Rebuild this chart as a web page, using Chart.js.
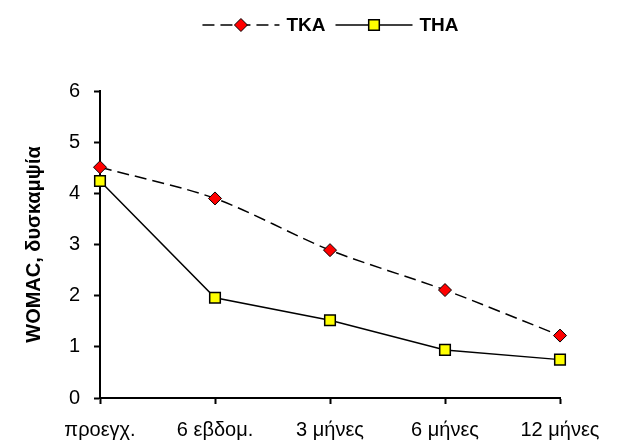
<!DOCTYPE html>
<html>
<head>
<meta charset="utf-8">
<script src="https://cdn.jsdelivr.net/npm/chart.js@4.4.0/dist/chart.umd.min.js"></script>
<style>
  html, body { margin: 0; padding: 0; background: #fff; }
  #wrap { width: 619px; height: 443px; }
</style>
</head>
<body>
<div id="wrap"><canvas id="chart"></canvas></div>
<script>
const categories = ['προεγχ.', '6 εβδομ.', '3 μήνες', '6 μήνες', '12 μήνες'];
const tkaValues = [4.51, 3.9, 2.89, 2.11, 1.22];
const thaValues = [4.24, 1.96, 1.52, 0.94, 0.75];
const seriesNames = ['TKA', 'THA'];
const yMin = 0, yMax = 6, yStep = 1;
const yTitle = 'WOMAC, δυσκαμψία';

const FONT = 'Arial, "Liberation Sans", sans-serif';

function drawMarker(ctx, style, r, x, y) {
  ctx.beginPath();
  if (style === 'rectRot') {
    ctx.moveTo(x - r, y); ctx.lineTo(x, y - r); ctx.lineTo(x + r, y); ctx.lineTo(x, y + r);
  } else {
    const s = r * Math.SQRT1_2;
    ctx.rect(x - s, y - s, 2 * s, 2 * s);
  }
  ctx.closePath();
  ctx.fill();
  ctx.stroke();
}

// hand-drawn legend: line sample with marker in the middle, like the original
const lineLegend = {
  id: 'lineLegend',
  afterDraw(chart) {
    const ctx = chart.ctx;
    const sampleW = 77, gapText = 7, gapItem = 10, y = 25;
    ctx.save();
    ctx.font = 'bold 19px ' + FONT;
    const items = chart.data.datasets.map(ds => ({ ds, w: sampleW + gapText + ctx.measureText(ds.label).width }));
    const total = items.reduce((a, it) => a + it.w, 0) + gapItem * (items.length - 1);
    let x = chart.width / 2 + 21 - total / 2;
    items.forEach(({ ds, w }) => {
      ctx.strokeStyle = ds.borderColor;
      ctx.lineWidth = ds.borderWidth;
      ctx.setLineDash(ds.borderDash || []);
      ctx.beginPath(); ctx.moveTo(x, y); ctx.lineTo(x + sampleW, y); ctx.stroke();
      ctx.setLineDash([]);
      ctx.fillStyle = ds.pointBackgroundColor;
      ctx.strokeStyle = ds.pointBorderColor;
      ctx.lineWidth = ds.pointBorderWidth;
      drawMarker(ctx, ds.pointStyle, ds.pointRadius, x + sampleW / 2, y);
      ctx.fillStyle = '#000';
      ctx.textBaseline = 'middle';
      ctx.textAlign = 'left';
      ctx.fillText(ds.label, x + sampleW + gapText, y + 1);
      x += w + gapItem;
    });
    ctx.restore();
  }
};

new Chart(document.getElementById('chart'), {
  type: 'line',
  data: {
    labels: categories,
    datasets: [
      {
        label: seriesNames[0],
        data: tkaValues,
        borderColor: '#000',
        borderWidth: 1.5,
        borderDash: [12, 6],
        tension: 0.3,
        pointStyle: 'rectRot',
        pointRadius: 6.5,
        pointHoverRadius: 6.5,
        pointBackgroundColor: '#ff0000',
        pointBorderColor: '#000',
        pointBorderWidth: 1,
      },
      {
        label: seriesNames[1],
        data: thaValues,
        borderColor: '#000',
        borderWidth: 1.5,
        tension: 0,
        pointStyle: 'rect',
        pointRadius: 7.5,
        pointHoverRadius: 7.5,
        pointBackgroundColor: '#ffff00',
        pointBorderColor: '#000',
        pointBorderWidth: 1.5,
      }
    ]
  },
  options: {
    responsive: true,
    maintainAspectRatio: false,
    animation: false,
    layout: { padding: { top: 91, right: 59, bottom: 0, left: 0 } },
    plugins: {
      legend: { display: false },
      tooltip: { enabled: false },
    },
    scales: {
      x: {
        offset: false,
        grid: { display: true, drawOnChartArea: false, drawTicks: true, tickLength: 6, tickWidth: 2, tickColor: '#000' },
        border: { display: true, color: '#000', width: 2 },
        ticks: { color: '#000', padding: 14, font: { family: FONT, size: 20 }, maxRotation: 0, autoSkip: false },
        afterFit(scale) { scale.height = 45; },
      },
      y: {
        min: yMin,
        max: yMax,
        grid: { display: true, drawOnChartArea: false, drawTicks: true, tickLength: 6, tickWidth: 2, tickColor: '#000' },
        border: { display: true, color: '#000', width: 2 },
        ticks: { stepSize: yStep, color: '#000', padding: 14, font: { family: FONT, size: 20 } },
        title: {
          display: true,
          text: yTitle,
          color: '#000',
          font: { family: FONT, size: 20, weight: 'bold' },
          padding: { top: 22, bottom: 0 },
        },
        afterFit(scale) { scale.width = 100; },
      }
    }
  },
  plugins: [lineLegend]
});
</script>
</body>
</html>
